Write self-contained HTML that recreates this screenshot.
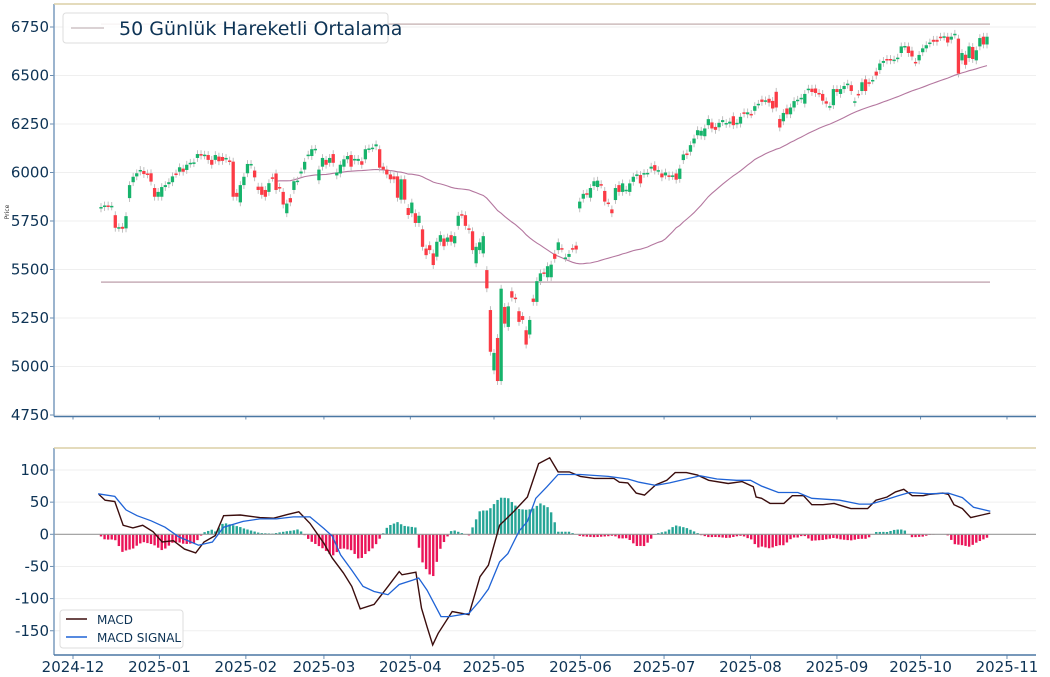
<!DOCTYPE html>
<html><head><meta charset="utf-8">
<style>
html,body{margin:0;padding:0;background:#fff;}
svg{display:block;font-family:"DejaVu Sans","Liberation Sans",sans-serif;}
</style></head>
<body>
<svg id="chart" width="1050" height="677" viewBox="0 0 1050 677" xmlns="http://www.w3.org/2000/svg">
<g id="grid"></g>
<g id="lines"></g>
<g id="candles"></g>
<g id="macdg"></g>
<g id="axes"></g>
<text x="9" y="212" font-size="6" fill="#333" transform="rotate(-90 9 212)" text-anchor="middle">Price</text>
<g>
<rect x="63" y="13" width="325" height="30" rx="3" fill="#fff" fill-opacity="0.85" stroke="#ddd"/>
<line x1="71" y1="28" x2="104" y2="28" stroke="#cfc3c6" stroke-width="1.5"/>
<text x="119" y="35" font-size="19" fill="#0d3355">50 Günlük Hareketli Ortalama</text>
</g>
<g>
<rect x="60" y="610" width="123" height="38" rx="3" fill="#fff" fill-opacity="0.9" stroke="#ddd"/>
<line x1="66" y1="619" x2="87" y2="619" stroke="#3b0d0d" stroke-width="1.5"/>
<text x="97" y="624" font-size="12" fill="#0d3355">MACD</text>
<line x1="66" y1="637" x2="87" y2="637" stroke="#1f63d6" stroke-width="1.5"/>
<text x="97" y="642" font-size="12" fill="#0d3355">MACD SIGNAL</text>
</g>
</svg>
<script>
const opens=[5815,5822,5830,5825,5780,5715,5720,5712,5868,5950,5980,6005,6008,5995,5996,5920,5875,5875,5925,5940,5950,5995,6004,6020,6013,6045,6048,6075,6095,6088,6090,6065,6065,6082,6080,6070,6062,6056,5895,5846,5935,5996,6040,6010,5927,5927,5910,5900,5975,5995,5925,5900,5790,5868,5910,5955,5995,6015,6088,6085,6118,5960,6030,6065,6050,6095,5985,5995,6030,6068,6090,6062,6060,6058,6068,6122,6126,6135,6120,6030,6015,5990,5980,5980,5860,5965,5817,5790,5790,5740,5707,5608,5625,5583,5566,5643,5660,5643,5677,5635,5725,5785,5780,5712,5697,5532,5600,5583,5497,5291,4980,5147,4925,5307,5204,5388,5355,5285,5260,5187,5165,5350,5333,5440,5485,5460,5460,5581,5600,5610,5560,5565,5610,5623,5815,5865,5893,5870,5930,5925,5940,5905,5845,5810,5858,5935,5900,5909,5900,5952,5985,5987,5993,5996,6020,6038,6008,5995,5985,5985,5982,5995,5967,6064,6098,6107,6150,6192,6190,6187,6244,6258,6235,6233,6260,6250,6252,6290,6248,6252,6310,6300,6302,6318,6350,6376,6370,6380,6369,6416,6276,6264,6330,6300,6335,6368,6378,6355,6428,6432,6433,6410,6405,6367,6340,6347,6430,6405,6430,6452,6450,6360,6405,6420,6480,6465,6475,6520,6528,6565,6585,6585,6580,6588,6616,6650,6650,6628,6570,6578,6620,6640,6665,6684,6684,6700,6700,6700,6685,6710,6690,6578,6607,6590,6647,6578,6650,6700,6660];
const closes=[5822,5830,5825,5828,5715,5718,5710,5775,5935,5978,5996,6013,5992,5990,5953,5875,5900,5925,5935,5950,5980,5993,6027,6004,6040,6050,6052,6095,6087,6092,6065,6040,6090,6058,6060,6075,6058,5875,5875,5935,5978,6044,6044,5975,5910,5885,5875,5945,5973,5910,5920,5835,5840,5846,5955,5958,6005,6055,6092,6120,6122,6015,6075,6040,6075,6050,6000,6040,6068,6085,6030,6070,6070,6040,6120,6124,6128,6145,6025,6015,5990,5965,5965,5870,5965,5860,5781,5845,5740,5777,5617,5574,5600,5523,5643,5677,5620,5665,5643,5672,5777,5783,5725,5705,5600,5617,5640,5672,5403,5076,5070,4925,5401,5221,5310,5355,5348,5230,5240,5113,5240,5333,5440,5480,5483,5517,5525,5555,5640,5608,5562,5580,5608,5603,5850,5890,5890,5920,5955,5958,5938,5850,5843,5790,5920,5900,5944,5911,5944,5978,5990,5944,5997,5998,6030,6010,6012,5975,6000,5978,5985,5963,6020,6093,6090,6141,6175,6218,6215,6227,6275,6227,6220,6256,6270,6255,6262,6244,6256,6287,6304,6310,6300,6342,6354,6364,6372,6360,6330,6335,6232,6307,6300,6335,6368,6375,6385,6405,6432,6415,6410,6408,6370,6355,6342,6430,6415,6430,6446,6458,6420,6367,6403,6465,6420,6463,6477,6500,6562,6575,6578,6578,6582,6592,6650,6652,6616,6598,6568,6606,6640,6656,6670,6674,6674,6698,6702,6670,6700,6715,6510,6616,6555,6650,6585,6630,6693,6660,6700];
const priceTicks=[4750,5000,5250,5500,5750,6000,6250,6500,6750];
const refLines=[6765,5435];
const macdDays=[9.3,11.5,15,18,21.5,25,28.7,32,36,40,44,47,51,54,60,67,72,77,81,85,90,93,97,100,103,108,113,117,118,123,125,127,129,131,136,142,146,149,153,158,163,167,171,174,178,182,187,194,196,199,202,205,209,213,216,220,224,228,235,240,244,245,247,250,255,258,262,265,269,273,279,285,288,292,295,298,301,305,307,312,314,316,319,322,326,329];
const macdVals=[62,53,51,14,10,14,4,-12,-10,-23,-29,-12,-2,29,30,26,25,31,35,17,-14,-37,-60,-81,-116,-109,-81,-58,-63,-59,-115,-144,-172,-154,-120,-125,-66,-48,14,35,58,110,119,97,97,90,87,87,81,80,64,61,77,84,96,96,92,84,79,82,74,58,56,48,48,60,60,46,46,48,40,40,53,58,66,70,60,60,62,64,62,46,40,26,30,33];
const sigDays=[9,15,19,23,28,33,38,45,50,54,61,67,73,79,85,90,93,96,100,104,108,113,117,122,124,127,132,135,142,146,149,153,156,160,163,166,170,174,182,192,199,203,209,214,218,225,231,238,243,247,253,260,265,275,282,286,291,296,300,307,314,319,323,329];
const sigVals=[63,59,38,29,21,11,-4,-17,-12,11,20,24,24,27,27,9,-3,-32,-56,-81,-89,-94,-78,-71,-68,-87,-128,-128,-123,-103,-85,-43,-30,5,20,56,74,93,93,90,86,81,76,80,84,91,86,84,84,75,65,65,56,53,47,47,53,60,65,63,64,57,42,36];
const macdTicks=[-150,-100,-50,0,50,100];
const monthLabels=["2024-12","2025-01","2025-02","2025-03","2025-04","2025-05","2025-06","2025-07","2025-08","2025-09","2025-10","2025-11"];
const monthDays=[0,31,62,90,121,151,182,212,243,274,304,335];

const NS="http://www.w3.org/2000/svg";
const L=54,R=1036,T1=4,B1=416.5,T2=448,B2=655;
const py=p=>27+(6750-p)*0.194;
const my=v=>534.3-v*0.643;
const dx=d=>73+d*2.788;
const cx=i=>101+i*(886/(closes.length-1));
function mk(tag,attrs,parent){const e=document.createElementNS(NS,tag);for(const k in attrs)e.setAttribute(k,attrs[k]);parent.appendChild(e);return e;}
const grid=document.getElementById('grid'),lines=document.getElementById('lines'),cg=document.getElementById('candles'),mg=document.getElementById('macdg'),ax=document.getElementById('axes');

priceTicks.forEach(t=>{
  const y=py(t);
  const g=mk('line',{x1:L,x2:R,y1:y,y2:y,stroke:'#efefef','stroke-width':1},grid);
  
  
  mk('line',{x1:L-4,x2:L,y1:y,y2:y,stroke:'#6b8db0'},ax);
  const tx=mk('text',{x:L-5,y:y+5,'text-anchor':'end','font-size':15,fill:'#0d3355'},ax);
  tx.textContent=t;
  
  
});
macdTicks.forEach(t=>{
  const y=my(t);
  if(t!==0){const g=mk('line',{x1:L,x2:R,y1:y,y2:y,stroke:'#efefef'},grid);
  
  }
  mk('line',{x1:L-4,x2:L,y1:y,y2:y,stroke:'#6b8db0'},ax);
  const tx=mk('text',{x:L-5,y:y+5,'text-anchor':'end','font-size':15,fill:'#0d3355'},ax);
  tx.textContent=t;
  
  
});
monthLabels.forEach((m,k)=>{
  const x=dx(monthDays[k]);
  mk('line',{x1:x,x2:x,y1:B2,y2:B2+4,stroke:'#6b8db0'},ax);
  mk('line',{x1:x,x2:x,y1:B1,y2:B1+3,stroke:'#6b8db0'},ax);
  const tx=mk('text',{x:x,y:B2+17,'text-anchor':'middle','font-size':15,fill:'#0d3355'},ax);
  tx.textContent=m;
  
  
});
[[L,T1,L,B1,'#7a9cbd'],[L,B1,R,B1,'#4a77a3'],[L,T1,R,T1,'#dccfa6'],[L,T2,L,B2,'#7a9cbd'],[L,B2,R,B2,'#4a77a3'],[L,T2,R,T2,'#dccfa6']].forEach(s=>{
  const l=mk('line',{x1:s[0],y1:s[1],x2:s[2],y2:s[3],stroke:s[4],'stroke-width':1.5},ax);
  
  
});

refLines.forEach((v,k)=>{
  const l=mk('line',{x1:cx(0),x2:cx(closes.length-1)+3,y1:py(v),y2:py(v),stroke:k?'#c7aeb8':'#cdbcbc','stroke-width':1.5},lines);
  
  
});
let pts=[];
for(let i=49;i<closes.length;i++){let s=0;for(let j=i-49;j<=i;j++)s+=closes[j];pts.push(cx(i).toFixed(1)+','+py(s/50).toFixed(1));}
const ma=mk('polyline',{points:pts.join(' '),fill:'none',stroke:'#b4779f','stroke-width':1.1},lines);



const bw=3.3;
closes.forEach((c,i)=>{
  const o=opens[i],x=cx(i),up=c>=o;
  const hi=Math.max(o,c)+20,lo=Math.min(o,c)-20;
  const w=mk('line',{x1:x,x2:x,y1:py(hi),y2:py(lo),stroke:'#b8b8b8','stroke-width':0.9},cg);
  
  
  const top=py(Math.max(o,c)),h=Math.max(1.5,py(Math.min(o,c))-top);
  const b=mk('rect',{x:x-bw/2,y:top,width:bw,height:h,fill:up?'#16b36b':'#fb3b45'},cg);
  
  
});

function interp(ds,vs,d){if(d<=ds[0])return vs[0];for(let k=1;k<ds.length;k++){if(d<=ds[k]){const t=(d-ds[k-1])/(ds[k]-ds[k-1]);return vs[k-1]+t*(vs[k]-vs[k-1]);}}return vs[vs.length-1];}
closes.forEach((c,i)=>{
  const x=cx(i),d=(x-73)/2.788;
  if(d<macdDays[0]||d>macdDays[macdDays.length-1])return;
  const h=interp(macdDays,macdVals,d)-interp(sigDays,sigVals,d);
  const y0=my(0),y1=my(h);
  const r=mk('rect',{x:x-1.2,y:Math.min(y0,y1),width:2.4,height:Math.abs(y1-y0),fill:h>=0?'#26a596':'#ea1559'},mg);
  
  
});
const zl=mk('line',{x1:L,x2:R,y1:my(0),y2:my(0),stroke:'#999','stroke-width':1.2},mg);


const ml=mk('polyline',{points:macdDays.map((d,k)=>dx(d).toFixed(1)+','+my(macdVals[k]).toFixed(1)).join(' '),fill:'none',stroke:'#3b0d0d','stroke-width':1.4},mg);


const sl=mk('polyline',{points:sigDays.map((d,k)=>dx(d).toFixed(1)+','+my(sigVals[k]).toFixed(1)).join(' '),fill:'none',stroke:'#1f63d6','stroke-width':1.3},mg);


</script>
</body></html>
